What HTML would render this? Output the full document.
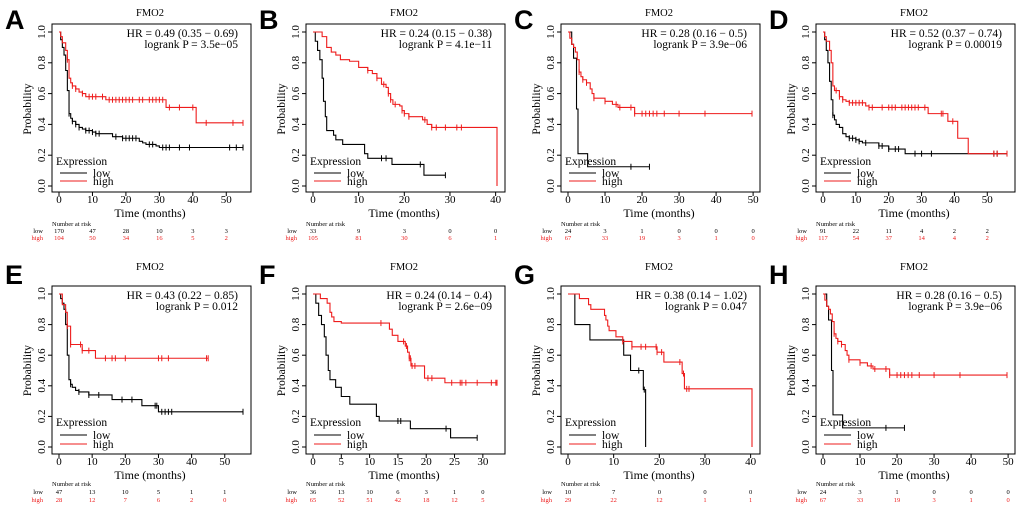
<!DOCTYPE html>
<html><head><meta charset="utf-8"><style>
html,body{margin:0;padding:0;background:#fff}
svg{display:block;font-family:"Liberation Serif",serif}
.lt{font-family:"Liberation Sans",sans-serif;font-weight:bold;font-size:27px}
</style></head><body>
<svg id="fig" width="1020" height="508" viewBox="0 0 1020 508"></svg>
<script>
// ---- data (time in months, survival probability) ----
const aLowT=[0,0.5,1,1.5,2,2.5,3,3.5,4,5,6,7,8,10,11,16,19,24,25,26,29,30];
const aLowS=[1,0.95,0.9,0.85,0.75,0.62,0.47,0.44,0.42,0.40,0.38,0.37,0.36,0.35,0.34,0.32,0.31,0.29,0.28,0.27,0.26,0.25];
const aLowC=[3,4,5,6,8,9,10,11,12,17,19,20,21,22,23,27,28,31,32,33,36,39,51,53,55];
const aHighT=[0,0.5,1,2,2.5,3,3.5,4,5,6,7,8,14,32,41];
const aHighS=[1,0.97,0.93,0.88,0.82,0.70,0.67,0.65,0.63,0.61,0.60,0.58,0.56,0.51,0.41];
const aHighC=[2.5,4,5,7,9,10,11,13,15,16,17,18,19,20,21,22,24,25,27,28,29,30,31,33,36,40,44,52,55];

const bLowT=[0,0.5,1,1.5,2,2.3,2.7,3,4.5,5,6.5,11.3,12,17.3,24.3];
const bLowS=[1,0.94,0.88,0.82,0.7,0.55,0.45,0.36,0.33,0.30,0.27,0.21,0.18,0.14,0.07];
const bLowC=[15,16,23.5,29];
const bHighT=[0,2,3,4,5,6,8,10,12,13,14,15,16,16.5,17,17.5,19,19.5,20,21,24,25,26,40.3];
const bHighS=[1,0.97,0.9,0.87,0.85,0.82,0.81,0.77,0.75,0.73,0.70,0.66,0.64,0.60,0.56,0.53,0.52,0.49,0.47,0.45,0.43,0.40,0.38,0];
const bHighC=[12,14,15.5,16.5,17,18,19.5,20,21,24.5,26,27,29,31.5,32.5];

const cLowT=[0,1,1.5,2.3,2.7,5.3];
const cLowS=[1,0.92,0.83,0.5,0.21,0.125];
const cLowC=[17,22];
const cHighT=[0,0.5,1,1.5,2,2.5,3,3.5,4,5,6,6.5,7,10,12,13.5,18];
const cHighS=[1,0.96,0.92,0.9,0.87,0.82,0.74,0.71,0.69,0.67,0.63,0.6,0.57,0.55,0.53,0.51,0.47];
const cHighC=[3,4,5,7,10,13,14,17,18,20,21,22,23,24,26,30,37,49.7];

const dLowT=[0,0.5,1,1.5,2,2.5,3,3.5,4,5,6,7,8,10,11,12,17,20,25];
const dLowS=[1,0.95,0.88,0.8,0.68,0.56,0.46,0.43,0.40,0.38,0.34,0.32,0.31,0.30,0.29,0.28,0.26,0.24,0.21];
const dLowC=[3,8,9,10,11,13,17,18,20,22,23,28,30,33,52,53];
const dHighT=[0,0.5,1,2,2.5,3,3.5,5,6,7,8,13,14,32,38,41,44.2];
const dHighS=[1,0.97,0.94,0.88,0.8,0.65,0.62,0.58,0.56,0.55,0.54,0.52,0.51,0.47,0.42,0.31,0.21];
const dHighC=[4,5,6,8,9,10,11,12,14,15,18,20,21,22,24,25,26,27,28,29,31,36,36.5,39.5,52,53,56];

const eLowT=[0,0.5,1,1.5,2,2.5,3,3.5,4,5,6,9,16,25,30];
const eLowS=[1,0.97,0.94,0.9,0.8,0.6,0.44,0.41,0.39,0.37,0.36,0.34,0.31,0.27,0.23];
const eLowC=[3.5,6,9,12,19,22,29,29.5,31,32,33,34,55.5];
const eHighT=[0,1,2,2.5,3.5,7,11];
const eHighS=[1,0.93,0.88,0.79,0.67,0.63,0.58];
const eHighC=[2.5,3.5,6.5,7,9,14,16,17,20,30,31,33,44.5,45];

const fLowT=[0,0.5,1,1.5,2,2.3,2.7,3,4,5,6.5,11.2,11.7,17.2,24.3];
const fLowS=[1,0.94,0.86,0.8,0.72,0.6,0.5,0.44,0.39,0.33,0.28,0.2,0.17,0.12,0.06];
const fLowC=[15,15.5,23.5,29];
const fHighT=[0,1.3,2.5,3,3.3,3.7,5,13.5,14,15,16.3,16.7,17,17.3,19.7,23.3];
const fHighS=[1,0.97,0.94,0.88,0.85,0.82,0.81,0.77,0.73,0.69,0.66,0.62,0.58,0.53,0.45,0.42];
const fHighC=[12,16,16.5,17,17.2,17.5,18,20.3,21,24.5,26,26.3,27,29,31.5,32.3,32.5];

const gLowT=[0,1.5,4.8,12.2,13.7,16.5,17];
const gLowS=[1,0.8,0.7,0.6,0.5,0.375,0];
const gLowC=[15.5,16.7];
const gHighT=[0,2.5,4.5,5,8,8.3,8.7,9,10.5,12,14,19.5,21,25,25.5,40.3];
const gHighS=[1,0.97,0.93,0.9,0.86,0.83,0.79,0.76,0.72,0.69,0.655,0.62,0.555,0.48,0.38,0];
const gHighC=[12,14,16,17,19.3,19.5,20.5,24.5,25.3,26,26.5];

const ticks50=[0,10,20,30,40,50];
const ticks40=[0,10,20,30,40];
const ticks30=[0,5,10,15,20,25,30];
const yTicks=[0,0.2,0.4,0.6,0.8,1.0];
const yTickLabels=["0.0","0.2","0.4","0.6","0.8","1.0"];

const aRiskLow=[170,47,28,10,3,3], aRiskHigh=[104,50,34,16,5,2];
const bRiskLow=[33,9,3,0,0], bRiskHigh=[105,81,30,6,1];
const cRiskLow=[24,3,1,0,0,0], cRiskHigh=[67,33,19,3,1,0];
const dRiskLow=[91,22,11,4,2,2], dRiskHigh=[117,54,37,14,4,2];
const eRiskLow=[47,13,10,5,1,1], eRiskHigh=[28,12,7,6,2,0];
const fRiskLow=[36,13,10,6,3,1,0], fRiskHigh=[65,52,51,42,18,12,5];
const gRiskLow=[10,7,0,0,0], gRiskHigh=[29,22,12,1,1];

const panels=[
 {id:"A",col:0,row:0,tmax:55,ends:[55,55],ticks:ticks50,hr:"HR = 0.49 (0.35 − 0.69)",p:"logrank P = 3.5e−05",low:[aLowT,aLowS,aLowC],high:[aHighT,aHighS,aHighC],rl:aRiskLow,rh:aRiskHigh},
 {id:"B",col:1,row:0,tmax:40.3,ends:[29,40.3],ticks:ticks40,hr:"HR = 0.24 (0.15 − 0.38)",p:"logrank P = 4.1e−11",low:[bLowT,bLowS,bLowC],high:[bHighT,bHighS,bHighC],rl:bRiskLow,rh:bRiskHigh},
 {id:"C",col:2,row:0,tmax:49.7,ends:[22,49.7],ticks:ticks50,hr:"HR = 0.28 (0.16 − 0.5)",p:"logrank P = 3.9e−06",low:[cLowT,cLowS,cLowC],high:[cHighT,cHighS,cHighC],rl:cRiskLow,rh:cRiskHigh},
 {id:"D",col:3,row:0,tmax:56,ends:[56,56],ticks:ticks50,hr:"HR = 0.52 (0.37 − 0.74)",p:"logrank P = 0.00019",low:[dLowT,dLowS,dLowC],high:[dHighT,dHighS,dHighC],rl:dRiskLow,rh:dRiskHigh},
 {id:"E",col:0,row:1,tmax:55.5,ends:[55.5,45],ticks:ticks50,hr:"HR = 0.43 (0.22 − 0.85)",p:"logrank P = 0.012",low:[eLowT,eLowS,eLowC],high:[eHighT,eHighS,eHighC],rl:eRiskLow,rh:eRiskHigh},
 {id:"F",col:1,row:1,tmax:32.5,ends:[29,32.5],ticks:ticks30,hr:"HR = 0.24 (0.14 − 0.4)",p:"logrank P = 2.6e−09",low:[fLowT,fLowS,fLowC],high:[fHighT,fHighS,fHighC],rl:fRiskLow,rh:fRiskHigh},
 {id:"G",col:2,row:1,tmax:40.3,ends:[17,40.3],ticks:ticks40,hr:"HR = 0.38 (0.14 − 1.02)",p:"logrank P = 0.047",low:[gLowT,gLowS,gLowC],high:[gHighT,gHighS,gHighC],rl:gRiskLow,rh:gRiskHigh},
 {id:"H",col:3,row:1,tmax:49.7,ends:[22,49.7],ticks:ticks50,hr:"HR = 0.28 (0.16 − 0.5)",p:"logrank P = 3.9e−06",low:[cLowT,cLowS,cLowC],high:[cHighT,cHighS,cHighC],rl:cRiskLow,rh:cRiskHigh}
];
const colX=[0,254,509,764];
const rowL=[
 {y:0,top:24,y1:32,y0:186,bot:192,tl:203,xl:217,hdr:226,lo:233,hi:240,ex:165,ll:173,lh:181,hr:37,pv:48,let:29},
 {y:254,top:32,y1:40,y0:193,bot:200,tl:211,xl:225,hdr:232,lo:240,hi:248,ex:172,ll:181,lh:190,hr:45,pv:56,let:30}
];
const RED="#ee1c1c";
const NS="http://www.w3.org/2000/svg";
const svg=document.getElementById('fig');
function mk(tag,attrs,parent,txt){const e=document.createElementNS(NS,tag);for(const k in attrs)e.setAttribute(k,attrs[k]);if(txt!==undefined)e.textContent=txt;parent.appendChild(e);return e;}
function survAt(T,S,t){let s=S[0];for(let i=0;i<T.length;i++){if(T[i]<=t)s=S[i];}return s;}

panels.forEach(P=>{
  const R=rowL[P.row];
  const g=mk('g',{transform:`translate(${colX[P.col]},${R.y})`},svg);
  
  
  const xs=t=>59+t*(243-59)/P.tmax;
  const ys=s=>R.y0-s*(R.y0-R.y1);
  let e;
  e=mk('text',{x:5,y:R.let,class:'lt'},g,P.id);
  
  e=mk('text',{x:150,y:16,'font-size':10.5,'text-anchor':'middle'},g,'FMO2');
  
  e=mk('rect',{x:52,y:R.top,width:199,height:R.bot-R.top,fill:'none',stroke:'#000','stroke-width':1},g);
  
  yTicks.forEach((v,i)=>{
    mk('line',{x1:48,x2:52,y1:ys(v),y2:ys(v),stroke:'#000'},g);
    e=mk('text',{x:0,y:0,'font-size':11,'text-anchor':'middle',transform:`translate(45,${ys(v)}) rotate(-90)`},g,yTickLabels[i]);
    
  });
  e=mk('text',{x:0,y:0,'font-size':11.5,'text-anchor':'middle',transform:`translate(31,${(R.y0+R.y1)/2}) rotate(-90)`},g,'Probability');
  
  P.ticks.forEach(v=>{
    mk('line',{x1:xs(v),x2:xs(v),y1:R.bot,y2:R.bot+4,stroke:'#000'},g);
    e=mk('text',{x:xs(v),y:R.tl,'font-size':11,'text-anchor':'middle'},g,String(v));
    
  });
  e=mk('text',{x:150,y:R.xl,'font-size':12,'text-anchor':'middle'},g,'Time (months)');
  
  e=mk('text',{x:238,y:R.hr,'font-size':11.5,'text-anchor':'end'},g,P.hr);
  
  e=mk('text',{x:238,y:R.pv,'font-size':11.5,'text-anchor':'end'},g,P.p);
  
  [[P.low,'#000',P.ends[0],'low'],[P.high,RED,P.ends[1],'high']].forEach(([D,col,end,nm])=>{
    const [T,S,C]=D;
    let d=`M${xs(T[0])},${ys(S[0])}`;
    for(let i=1;i<T.length;i++){d+=`H${xs(T[i])}V${ys(S[i])}`;}
    d+=`H${xs(end)}`;
    e=mk('path',{d:d,fill:'none',stroke:col,'stroke-width':1.1},g);
    
    C.forEach(t=>{
      const y=ys(survAt(T,S,t));
      e=mk('line',{x1:xs(t),x2:xs(t),y1:y-3,y2:y+3,stroke:col,'stroke-width':1},g);
      
    });
  });
  e=mk('text',{x:56,y:R.ex,'font-size':11.5},g,'Expression');
  
  mk('line',{x1:60,x2:87,y1:R.ll,y2:R.ll,stroke:'#000'},g);
  e=mk('text',{x:93,y:R.ll+4,'font-size':11.5},g,'low');
  
  mk('line',{x1:60,x2:87,y1:R.lh,y2:R.lh,stroke:RED},g);
  e=mk('text',{x:93,y:R.lh+4,'font-size':11.5},g,'high');
  
  e=mk('text',{x:52,y:R.hdr,'font-size':6.5},g,'Number at risk');
  
  e=mk('text',{x:43,y:R.lo,'font-size':6.5,'text-anchor':'end'},g,'low');
  
  e=mk('text',{x:43,y:R.hi,'font-size':6.5,'text-anchor':'end',fill:RED},g,'high');
  
  P.ticks.forEach((v,i)=>{
    e=mk('text',{x:xs(v),y:R.lo,'font-size':6.5,'text-anchor':'middle'},g,String(P.rl[i]));
    
    e=mk('text',{x:xs(v),y:R.hi,'font-size':6.5,'text-anchor':'middle',fill:RED},g,String(P.rh[i]));
    
  });
});
</script>
</body></html>
